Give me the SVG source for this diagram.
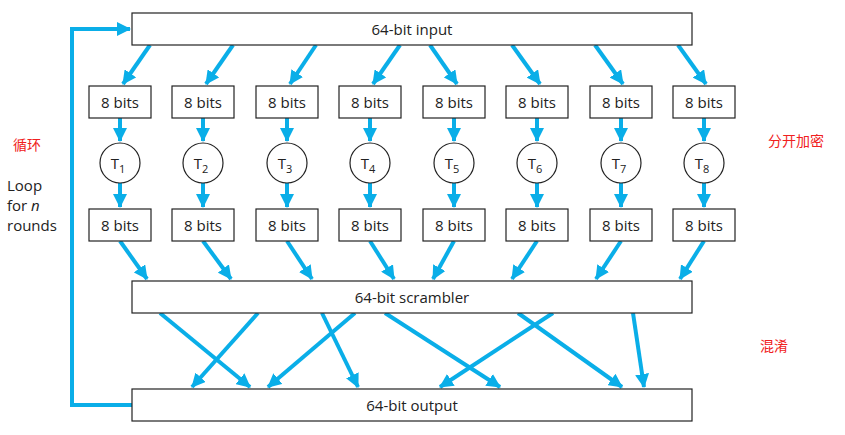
<svg xmlns="http://www.w3.org/2000/svg" width="845" height="435" viewBox="0 0 845 435">
<style>
.box{fill:#fff;stroke:#222;stroke-width:1.2}
.t{font-family:"Open Sans","Noto Sans",sans-serif;font-size:15px;fill:#222;text-anchor:middle}
.c{stroke:#0aaee8;stroke-width:4;fill:none;marker-end:url(#ah)}
.red{font-family:"Noto Sans CJK SC",sans-serif;font-size:14px;fill:#f02020}
</style>
<defs>
<marker id="ah" markerUnits="userSpaceOnUse" markerWidth="14" markerHeight="14" viewBox="0 0 14 14" refX="13" refY="7" orient="auto">
<path d="M0,0 L14,7 L0,14 Z" fill="#0aaee8"/>
</marker>
</defs>
<rect width="845" height="435" fill="#fff"/>
<g id="connectors">
<path class="c" d="M132,405 H72 V29 H130" style="stroke-width:4"/>
<path class="c" d="M150,45 L123,84"/>
<path class="c" d="M233,45 L206,84"/>
<path class="c" d="M316,45 L290,84"/>
<path class="c" d="M400,45 L373,84"/>
<path class="c" d="M430,45 L457,84"/>
<path class="c" d="M512,45 L540,84"/>
<path class="c" d="M595,45 L623,84"/>
<path class="c" d="M678,45 L706,84"/>
<g id="down">
<path class="c" d="M120,118 V141"/><path class="c" d="M203,118 V141"/><path class="c" d="M287,118 V141"/><path class="c" d="M370,118 V141"/>
<path class="c" d="M454,118 V141"/><path class="c" d="M537,118 V141"/><path class="c" d="M621,118 V141"/><path class="c" d="M704,118 V141"/>
<path class="c" d="M120,183 V207"/><path class="c" d="M203,183 V207"/><path class="c" d="M287,183 V207"/><path class="c" d="M370,183 V207"/>
<path class="c" d="M454,183 V207"/><path class="c" d="M537,183 V207"/><path class="c" d="M621,183 V207"/><path class="c" d="M704,183 V207"/>
</g>
<path class="c" d="M120,241 L147,279"/>
<path class="c" d="M203,241 L231,279"/>
<path class="c" d="M287,241 L312,279"/>
<path class="c" d="M370,241 L394,279"/>
<path class="c" d="M454,241 L433,279"/>
<path class="c" d="M537,241 L512,279"/>
<path class="c" d="M621,241 L596,279"/>
<path class="c" d="M704,241 L680,279"/>
<path class="c" d="M160,313 L250,387"/>
<path class="c" d="M258,313 L192,387"/>
<path class="c" d="M322,313 L358,387"/>
<path class="c" d="M355,313 L268,387"/>
<path class="c" d="M385,313 L500,387"/>
<path class="c" d="M518,313 L622,387"/>
<path class="c" d="M553,313 L440,387"/>
<path class="c" d="M633,313 L644,387"/>
</g>
<g id="input"><rect class="box" x="132" y="13" width="560" height="32"/><text class="t" x="412" y="35">64-bit input</text></g>
<g id="in1"><rect class="box" x="89" y="86" width="62" height="32"/><text class="t" x="120" y="108">8 bits</text></g>
<g id="in2"><rect class="box" x="172" y="86" width="62" height="32"/><text class="t" x="203" y="108">8 bits</text></g>
<g id="in3"><rect class="box" x="256" y="86" width="62" height="32"/><text class="t" x="287" y="108">8 bits</text></g>
<g id="in4"><rect class="box" x="339" y="86" width="62" height="32"/><text class="t" x="370" y="108">8 bits</text></g>
<g id="in5"><rect class="box" x="423" y="86" width="62" height="32"/><text class="t" x="454" y="108">8 bits</text></g>
<g id="in6"><rect class="box" x="506" y="86" width="62" height="32"/><text class="t" x="537" y="108">8 bits</text></g>
<g id="in7"><rect class="box" x="590" y="86" width="62" height="32"/><text class="t" x="621" y="108">8 bits</text></g>
<g id="in8"><rect class="box" x="673" y="86" width="62" height="32"/><text class="t" x="704" y="108">8 bits</text></g>
<g id="T1"><circle class="box" cx="120" cy="163" r="20"/><text class="t" x="118" y="169">T<tspan font-size="11" dy="4">1</tspan></text></g>
<g id="T2"><circle class="box" cx="203" cy="163" r="20"/><text class="t" x="201" y="169">T<tspan font-size="11" dy="4">2</tspan></text></g>
<g id="T3"><circle class="box" cx="287" cy="163" r="20"/><text class="t" x="285" y="169">T<tspan font-size="11" dy="4">3</tspan></text></g>
<g id="T4"><circle class="box" cx="370" cy="163" r="20"/><text class="t" x="368" y="169">T<tspan font-size="11" dy="4">4</tspan></text></g>
<g id="T5"><circle class="box" cx="454" cy="163" r="20"/><text class="t" x="452" y="169">T<tspan font-size="11" dy="4">5</tspan></text></g>
<g id="T6"><circle class="box" cx="537" cy="163" r="20"/><text class="t" x="535" y="169">T<tspan font-size="11" dy="4">6</tspan></text></g>
<g id="T7"><circle class="box" cx="621" cy="163" r="20"/><text class="t" x="619" y="169">T<tspan font-size="11" dy="4">7</tspan></text></g>
<g id="T8"><circle class="box" cx="704" cy="163" r="20"/><text class="t" x="702" y="169">T<tspan font-size="11" dy="4">8</tspan></text></g>
<g id="out1"><rect class="box" x="89" y="209" width="62" height="32"/><text class="t" x="120" y="231">8 bits</text></g>
<g id="out2"><rect class="box" x="172" y="209" width="62" height="32"/><text class="t" x="203" y="231">8 bits</text></g>
<g id="out3"><rect class="box" x="256" y="209" width="62" height="32"/><text class="t" x="287" y="231">8 bits</text></g>
<g id="out4"><rect class="box" x="339" y="209" width="62" height="32"/><text class="t" x="370" y="231">8 bits</text></g>
<g id="out5"><rect class="box" x="423" y="209" width="62" height="32"/><text class="t" x="454" y="231">8 bits</text></g>
<g id="out6"><rect class="box" x="506" y="209" width="62" height="32"/><text class="t" x="537" y="231">8 bits</text></g>
<g id="out7"><rect class="box" x="590" y="209" width="62" height="32"/><text class="t" x="621" y="231">8 bits</text></g>
<g id="out8"><rect class="box" x="673" y="209" width="62" height="32"/><text class="t" x="704" y="231">8 bits</text></g>
<g id="scrambler"><rect class="box" x="132" y="281" width="560" height="32"/><text class="t" x="412" y="303">64-bit scrambler</text></g>
<g id="output"><rect class="box" x="132" y="389" width="560" height="32"/><text class="t" x="412" y="411">64-bit output</text></g>
<g id="labels">
<text class="t" style="text-anchor:start" x="7" y="191">Loop</text>
<text class="t" style="text-anchor:start" x="7" y="211">for <tspan font-style="italic">n</tspan></text>
<text class="t" style="text-anchor:start" x="7" y="231">rounds</text>
<text class="red" x="13" y="150">循环</text>
<text class="red" x="768" y="146">分开加密</text>
<text class="red" x="760" y="351">混淆</text>
</g>
</svg>
